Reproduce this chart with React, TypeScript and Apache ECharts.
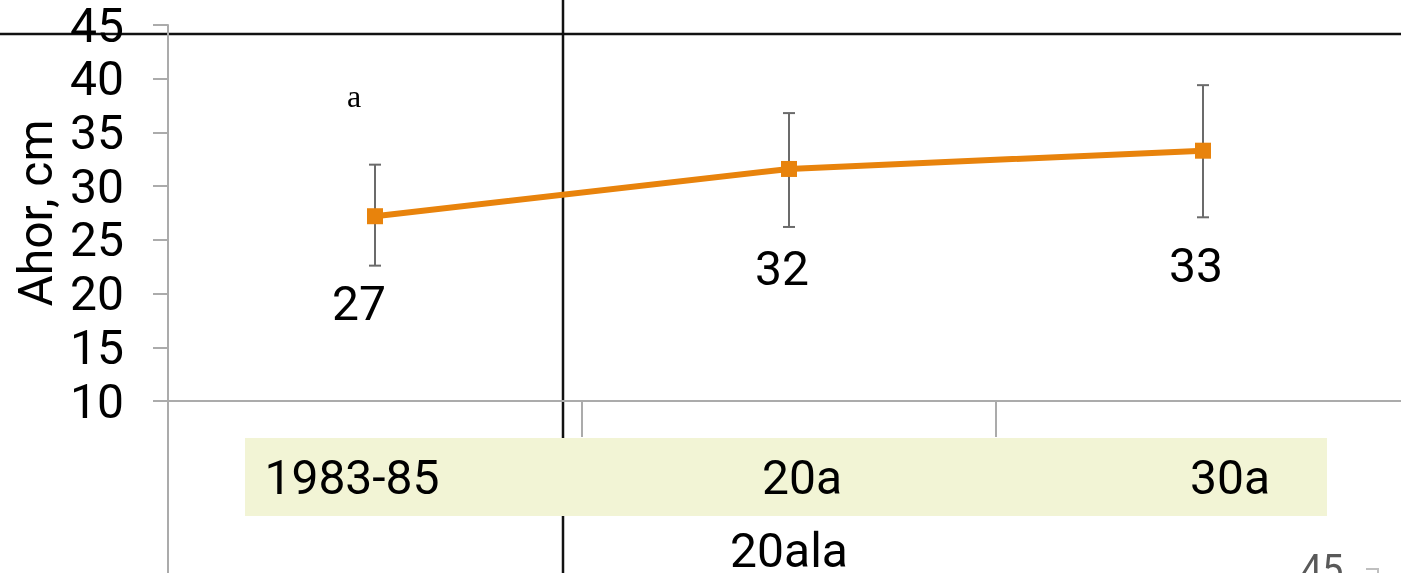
import React, { useEffect, useRef } from "react";
import * as echarts from "echarts";

const categories = ["1983-85", "20a", "30a"];
const means = [27.2, 31.6, 33.3];
const errLow = [22.6, 26.2, 27.1];
const errHigh = [32.0, 36.8, 39.4];
const yTicks = { min: 10, max: 45, interval: 5 };
const xAxisName = "20ala";
const yAxisName = "Ahor, cm";
const noteText = "a";
const cornerText = "45";

// per-point label offsets (layout only)
const labelOffsets = [
  [-16, 87],
  [-7, 100],
  [-7, 115],
];
const labelPads = [
  [0, 46, 0, 0],
  [0, 0, 0, 26],
  [0, 0, 0, 54],
];

const ORANGE = "#E8830C";
const GRAY = "#ABABAB";
const ERR = "#6B6B6B";

export default function App() {
  const ref = useRef<HTMLDivElement>(null);
  useEffect(() => {
    if (!ref.current) return;
    const chart = echarts.init(ref.current, null, { renderer: "svg" });
    const rich: any = {};
    categories.forEach((_, i) => {
      rich["c" + i] = {
        fontSize: 48,
        fontFamily: "Roboto",
        color: "#000",
        padding: labelPads[i],
      };
    });
    const option: any = {
      animation: false,
      textStyle: { fontFamily: "Roboto" },
      grid: { left: 168, top: 25, width: 1242, height: 376, outerBoundsMode: "none", containLabel: false },
      xAxis: {
        type: "category",
        data: categories,
        boundaryGap: true,
        z: 3,
        name: xAxisName,
        nameLocation: "middle",
        nameGap: 125,
        nameTextStyle: { fontSize: 48, color: "#000", fontFamily: "Roboto" },
        axisLine: { show: true, lineStyle: { color: GRAY, width: 2 } },
        axisTick: { show: true, length: 36, alignWithLabel: false, lineStyle: { color: GRAY, width: 2 } },
        axisLabel: {
          margin: 76,
          verticalAlign: "middle",
          formatter: (v: string) => {
            const i = categories.indexOf(v);
            return "{c" + i + "|" + v + "}";
          },
          rich,
        },
        splitLine: { show: false },
      },
      yAxis: {
        type: "value",
        min: yTicks.min,
        max: yTicks.max,
        interval: yTicks.interval,
        z: 3,
        name: yAxisName,
        nameLocation: "middle",
        nameRotate: 90,
        nameGap: 130,
        nameTextStyle: { fontSize: 48, color: "#000", fontFamily: "Roboto", verticalAlign: "middle" },
        axisLine: { show: true, lineStyle: { color: GRAY, width: 2 } },
        axisTick: { show: true, length: 15, lineStyle: { color: GRAY, width: 2 } },
        axisLabel: { fontSize: 48, color: "#000", margin: 44, fontFamily: "Roboto" },
        splitLine: { show: false },
      },
      series: [
        {
          type: "custom",
          z: 4,
          data: categories.map((_, i) => [i, errLow[i], errHigh[i]]),
          renderItem: (params: any, api: any) => {
            const lo = api.coord([api.value(0), api.value(1)]);
            const hi = api.coord([api.value(0), api.value(2)]);
            const w = 6;
            const style = { stroke: ERR, lineWidth: 2 };
            return {
              type: "group",
              children: [
                { type: "line", shape: { x1: lo[0], y1: lo[1], x2: hi[0], y2: hi[1] }, style },
                { type: "line", shape: { x1: lo[0] - w, y1: lo[1], x2: lo[0] + w, y2: lo[1] }, style },
                { type: "line", shape: { x1: hi[0] - w, y1: hi[1], x2: hi[0] + w, y2: hi[1] }, style },
              ],
            };
          },
        },
        {
          type: "line",
          z: 5,
          data: means.map((v, i) => ({
            value: v,
            label: { offset: labelOffsets[i] },
          })),
          symbol: "rect",
          symbolSize: 16,
          lineStyle: { color: ORANGE, width: 6 },
          itemStyle: { color: ORANGE },
          label: {
            show: true,
            position: "inside",
            verticalAlign: "middle",
            align: "center",
            fontSize: 48,
            color: "#000",
            fontFamily: "Roboto",
            formatter: (p: any) => String(Math.round(p.value)),
          },
        },
      ],
      graphic: [
        {
          type: "line",
          z: 1,
          shape: { x1: 0, y1: 34, x2: 1401, y2: 34 },
          style: { stroke: "#111", lineWidth: 2.5 },
        },
        {
          type: "line",
          z: 1,
          shape: { x1: 563, y1: 0, x2: 563, y2: 573 },
          style: { stroke: "#111", lineWidth: 2.5 },
        },
        {
          type: "rect",
          z: 2,
          shape: { x: 245, y: 438, width: 1082, height: 78 },
          style: { fill: "#F2F4D5" },
        },
        {
          type: "line",
          z: 3,
          shape: { x1: 168, y1: 401, x2: 168, y2: 573 },
          style: { stroke: GRAY, lineWidth: 2 },
        },
        {
          type: "text",
          z: 6,
          x: 354,
          y: 96,
          style: {
            text: noteText,
            fontSize: 32,
            fontFamily: "Liberation Serif",
            fill: "#000",
            textAlign: "center",
            textVerticalAlign: "middle",
          },
        },
        {
          type: "text",
          z: 6,
          x: 1322,
          y: 569,
          style: {
            text: cornerText,
            fontSize: 38,
            fontFamily: "Roboto",
            fill: "#595959",
            textAlign: "center",
            textVerticalAlign: "middle",
          },
        },
        {
          type: "polyline",
          z: 6,
          shape: { points: [[1366, 569], [1378, 569], [1378, 580]] },
          style: { stroke: "#BFBFBF", lineWidth: 2, fill: null },
        },
      ],
    };
    chart.setOption(option);
    return () => chart.dispose();
  }, []);
  return (
    <div
      ref={ref}
      style={{ position: "fixed", left: 0, top: 0, width: 1401, height: 573 }}
    />
  );
}
